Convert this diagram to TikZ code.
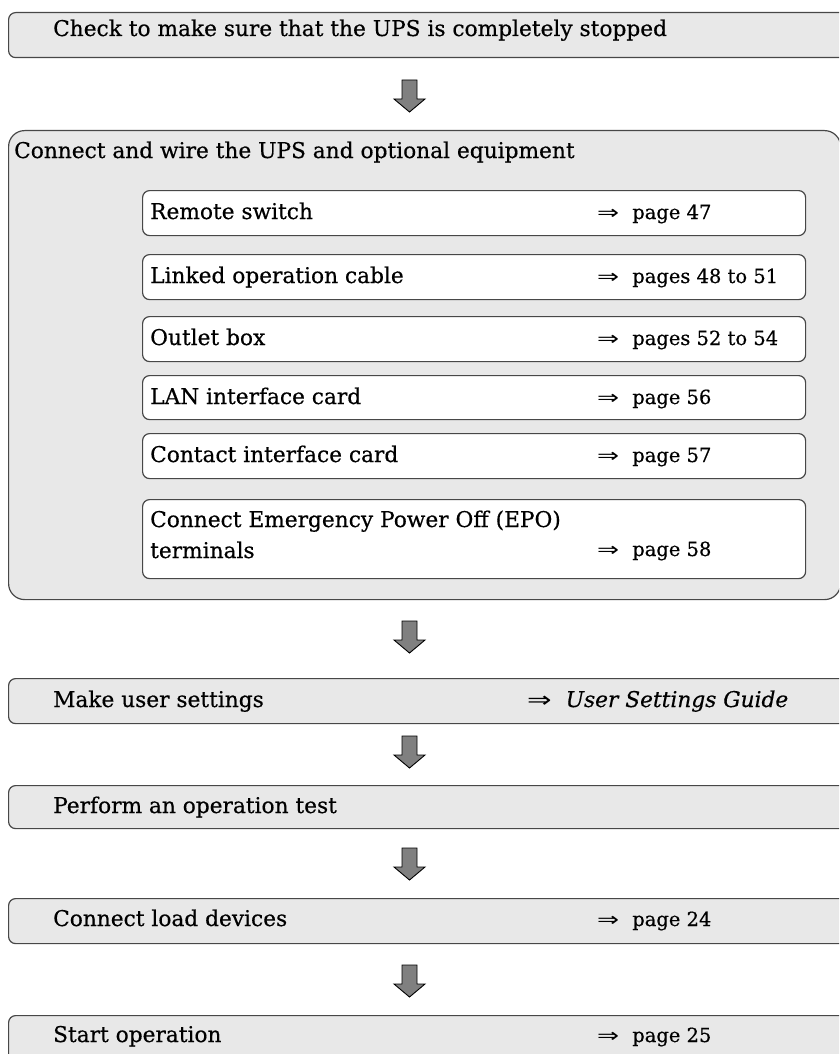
\documentclass[tikz,border=0pt]{standalone}
\usepackage{fontspec}
\usepackage{graphicx}
\setmainfont{DejaVu Serif}[FakeBold=0.5]
\newfontfamily\arrowfont{DejaVu Sans}
\newcommand\refarrow{{\arrowfont\scalebox{1.35}[1]{⇒}}}
\begin{document}
\begin{tikzpicture}[x=1pt,y=-1pt,
  graybox/.style={draw=black!72, line width=1.2pt, fill=black!9, rounded corners=7pt, inner sep=0pt, anchor=north west},
  whitebox/.style={draw=black!72, line width=1.2pt, fill=white, rounded corners=7pt, inner sep=0pt, anchor=north west},
  lbl/.style={anchor=base west, inner sep=0pt, font=\fontsize{21.7}{26}\selectfont},
  reflbl/.style={anchor=base west, inner sep=0pt, font=\fontsize{19.5}{24}\selectfont},
  blockarrow/.style={draw=black, fill=black!50, line width=0.9pt, line join=miter}
]
\useasboundingbox (0,0) rectangle (839,1054);
\clip (0,0) rectangle (839,1054);
\newcommand\blockdown[1]{\draw[blockarrow] (#1) ++(-7.5,0) -- ++(15,0) -- ++(0,19) -- ++(8,0) -- ++(-15.5,13) -- ++(-15.5,-13) -- ++(8,0) -- cycle;}
% step 1
\node[graybox, minimum width=852pt, minimum height=45pt] (b1) at (8,12) {};
\node[lbl] (t1) at (53,36) {Check to make sure that the UPS is completely stopped};
\coordinate (a1) at (409.5,80);
\blockdown{a1}
% step 2
\node[graybox, rounded corners=16pt, minimum width=832pt, minimum height=469pt] (b2) at (8,130) {};
\node[lbl] (t2) at (14,158) {Connect and wire the UPS and optional equipment};
\node[whitebox, minimum width=663pt, minimum height=45pt] (r1) at (142,190) {};
\node[lbl] (r1t) at (150,219) {Remote switch};
\node[reflbl] (r1p) at (597,219) {\refarrow\hspace{13pt}page 47};
\node[whitebox, minimum width=663pt, minimum height=45pt] (r2) at (142,254) {};
\node[lbl] (r2t) at (150,283) {Linked operation cable};
\node[reflbl] (r2p) at (597,283) {\refarrow\hspace{13pt}pages 48 to 51};
\node[whitebox, minimum width=663pt, minimum height=45pt] (r3) at (142,316) {};
\node[lbl] (r3t) at (150,345) {Outlet box};
\node[reflbl] (r3p) at (597,345) {\refarrow\hspace{13pt}pages 52 to 54};
\node[whitebox, minimum width=663pt, minimum height=44pt] (r4) at (142,375) {};
\node[lbl] (r4t) at (150,404) {LAN interface card};
\node[reflbl] (r4p) at (597,404) {\refarrow\hspace{13pt}page 56};
\node[whitebox, minimum width=663pt, minimum height=45pt] (r5) at (142,433) {};
\node[lbl] (r5t) at (150,462) {Contact interface card};
\node[reflbl] (r5p) at (597,462) {\refarrow\hspace{13pt}page 57};
\node[whitebox, minimum width=663pt, minimum height=79pt] (r6) at (142,499) {};
\node[lbl] (r6t) at (150,527) {Connect Emergency Power Off (EPO)};
\node[lbl] (r6u) at (150,558) {terminals};
\node[reflbl] (r6p) at (597,556) {\refarrow\hspace{13pt}page 58};
\coordinate (a2) at (409.5,621);
\blockdown{a2}
% step 3
\node[graybox, minimum width=852pt, minimum height=45pt] (b3) at (8,678) {};
\node[lbl] (t3) at (53,707) {Make user settings};
\node[lbl] (t3p) at (527,707) {\refarrow\hspace{14pt}\textit{User Settings Guide}};
\coordinate (a3) at (409.5,736);
\blockdown{a3}
% step 4
\node[graybox, minimum width=852pt, minimum height=43pt] (b4) at (8,785) {};
\node[lbl] (t4) at (53,813) {Perform an operation test};
\coordinate (a4) at (409.5,848);
\blockdown{a4}
% step 5
\node[graybox, minimum width=852pt, minimum height=45pt] (b5) at (8,898) {};
\node[lbl] (t5) at (53,926) {Connect load devices};
\node[reflbl] (t5p) at (597,926) {\refarrow\hspace{13pt}page 24};
\coordinate (a5) at (409.5,965);
\blockdown{a5}
% step 6
\node[graybox, minimum width=852pt, minimum height=60pt] (b6) at (8,1015) {};
\node[lbl] (t6) at (53,1042) {Start operation};
\node[reflbl] (t6p) at (597,1042) {\refarrow\hspace{13pt}page 25};
\end{tikzpicture}
\end{document}
